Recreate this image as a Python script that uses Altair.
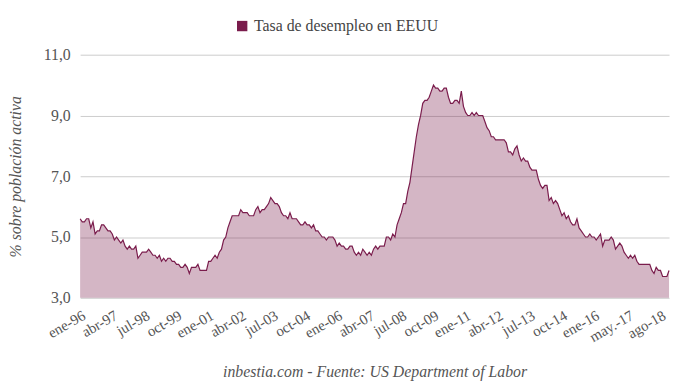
import json
import altair as alt
import pandas as pd

# Monthly unemployment rate (%), Jan 1996 - Dec 2018
r1996 = [5.6, 5.5, 5.5, 5.6, 5.6, 5.3, 5.5, 5.1, 5.2, 5.2, 5.4, 5.4]
r1997 = [5.3, 5.2, 5.2, 5.1, 4.9, 5.0, 4.9, 4.8, 4.9, 4.7, 4.6, 4.7]
r1998 = [4.6, 4.6, 4.7, 4.3, 4.4, 4.5, 4.5, 4.5, 4.6, 4.5, 4.4, 4.4]
r1999 = [4.3, 4.4, 4.2, 4.3, 4.2, 4.3, 4.3, 4.2, 4.2, 4.1, 4.1, 4.0]
r2000 = [4.0, 4.1, 4.0, 3.8, 4.0, 4.0, 4.0, 4.1, 3.9, 3.9, 3.9, 3.9]
r2001 = [4.2, 4.2, 4.3, 4.4, 4.3, 4.5, 4.6, 4.9, 5.0, 5.3, 5.5, 5.7]
r2002 = [5.7, 5.7, 5.7, 5.9, 5.8, 5.8, 5.8, 5.7, 5.7, 5.7, 5.9, 6.0]
r2003 = [5.8, 5.9, 5.9, 6.0, 6.1, 6.3, 6.2, 6.1, 6.1, 6.0, 5.8, 5.7]
r2004 = [5.7, 5.6, 5.8, 5.6, 5.6, 5.6, 5.5, 5.4, 5.4, 5.5, 5.4, 5.4]
r2005 = [5.3, 5.4, 5.2, 5.2, 5.1, 5.0, 5.0, 4.9, 5.0, 5.0, 5.0, 4.9]
r2006 = [4.7, 4.8, 4.7, 4.7, 4.6, 4.6, 4.7, 4.7, 4.5, 4.4, 4.5, 4.4]
r2007 = [4.6, 4.5, 4.4, 4.5, 4.4, 4.6, 4.7, 4.6, 4.7, 4.7, 4.7, 5.0]
r2008 = [5.0, 4.9, 5.1, 5.0, 5.4, 5.6, 5.8, 6.1, 6.1, 6.5, 6.8, 7.3]
r2009 = [7.8, 8.3, 8.7, 9.0, 9.4, 9.5, 9.5, 9.6, 9.8, 10.0, 9.9, 9.9]
r2010 = [9.8, 9.8, 9.9, 9.9, 9.6, 9.4, 9.4, 9.5, 9.5, 9.4, 9.8, 9.3]
r2011 = [9.1, 9.0, 9.0, 9.1, 9.0, 9.1, 9.0, 9.0, 9.0, 8.8, 8.6, 8.5]
r2012 = [8.3, 8.3, 8.2, 8.2, 8.2, 8.2, 8.2, 8.1, 7.8, 7.8, 7.7, 7.9]
r2013 = [8.0, 7.7, 7.5, 7.6, 7.5, 7.5, 7.3, 7.2, 7.2, 7.2, 6.9, 6.7]
r2014 = [6.6, 6.7, 6.7, 6.2, 6.3, 6.1, 6.2, 6.1, 5.9, 5.7, 5.8, 5.6]
r2015 = [5.7, 5.5, 5.4, 5.4, 5.6, 5.3, 5.2, 5.1, 5.0, 5.0, 5.1, 5.0]
r2016 = [5.0, 4.9, 5.0, 5.1, 4.7, 4.9, 4.9, 4.9, 5.0, 4.9, 4.6, 4.7]
r2017 = [4.8, 4.7, 4.5, 4.4, 4.3, 4.4, 4.3, 4.4, 4.2, 4.1, 4.1, 4.1]
r2018 = [4.1, 4.1, 4.1, 3.9, 3.8, 4.0, 3.9, 3.9, 3.7, 3.7, 3.7, 3.9]

tick_months = [0, 15, 30, 45, 60, 75, 90, 105, 120, 135, 150, 165, 180,
               195, 210, 225, 240, 256, 271]
tick_labels = ["ene-96", "abr-97", "jul-98", "oct-99", "ene-01", "abr-02",
               "jul-03", "oct-04", "ene-06", "abr-07", "jul-08", "oct-09",
               "ene-11", "abr-12", "jul-13", "oct-14", "ene-16", "may.-17",
               "ago-18"]
y_ticks = [3, 5, 7, 9, 11]
y_min = 3
series_name = "Tasa de desempleo en EEUU"

rates = (r1996 + r1997 + r1998 + r1999 + r2000 + r2001 + r2002 + r2003 +
         r2004 + r2005 + r2006 + r2007 + r2008 + r2009 + r2010 + r2011 +
         r2012 + r2013 + r2014 + r2015 + r2016 + r2017 + r2018)
df = pd.DataFrame({"mes": list(range(len(rates))), "tasa": rates,
                   "serie": series_name})

LINE = "#7a1c4c"
FONT = "Liberation Serif"
TXT = "#555555"

label_expr = "{}[indexof({}, datum.value)]".format(
    json.dumps(tick_labels), json.dumps(tick_months))

x = alt.X("mes:Q",
          scale=alt.Scale(domain=[0, len(rates) - 1], nice=False, zero=False),
          axis=alt.Axis(values=tick_months, labelExpr=label_expr,
                        labelAngle=-30, labelAlign="right", labelBaseline="top",
                        labelFont=FONT, labelFontSize=15, labelColor=TXT,
                        labelPadding=10, ticks=False, domain=False, grid=False,
                        labelOverlap=False,
                        title="inbestia.com - Fuente: US Department of Labor",
                        titleFont=FONT, titleFontStyle="italic",
                        titleFontWeight="normal", titleFontSize=16,
                        titleColor=TXT, titleBaseline="middle", titleY=75))
y = alt.Y("tasa:Q",
          scale=alt.Scale(domain=[3, 11], nice=False, zero=False),
          axis=alt.Axis(values=y_ticks,
                        labelExpr="replace(format(datum.value, '.1f'), '.', ',')",
                        labelFont=FONT, labelFontSize=16, labelColor=TXT,
                        labelPadding=10, ticks=False, domain=False,
                        gridColor="#cccccc", gridWidth=1,
                        title="% sobre población activa", titleFont=FONT,
                        titleFontStyle="italic", titleFontWeight="normal",
                        titleFontSize=16, titleColor=TXT, titlePadding=20))

area = alt.Chart(df).mark_area(fillOpacity=0.32).encode(
    x=x, y=y, y2=alt.datum(y_min),
    color=alt.Color("serie:N", scale=alt.Scale(range=[LINE]),
                    legend=alt.Legend(title=None, orient="none",
                                      legendX=156, legendY=-37,
                                      symbolType="square", symbolSize=110,
                                      symbolOpacity=1, symbolFillColor=LINE,
                                      symbolStrokeWidth=0, labelLimit=400,
                                      labelFont=FONT, labelFontSize=16,
                                      labelColor="#444444")))
line = alt.Chart(df).mark_line(color=LINE, strokeWidth=1.2).encode(x=x, y=y)

chart = (area + line).properties(
    width=596, height=246,
    padding={"left": 73, "top": 45, "right": 3, "bottom": 86},
    autosize="none",
).configure_view(stroke=None)

chart.save("out.html", embed_options={"renderer": "svg", "actions": False})
